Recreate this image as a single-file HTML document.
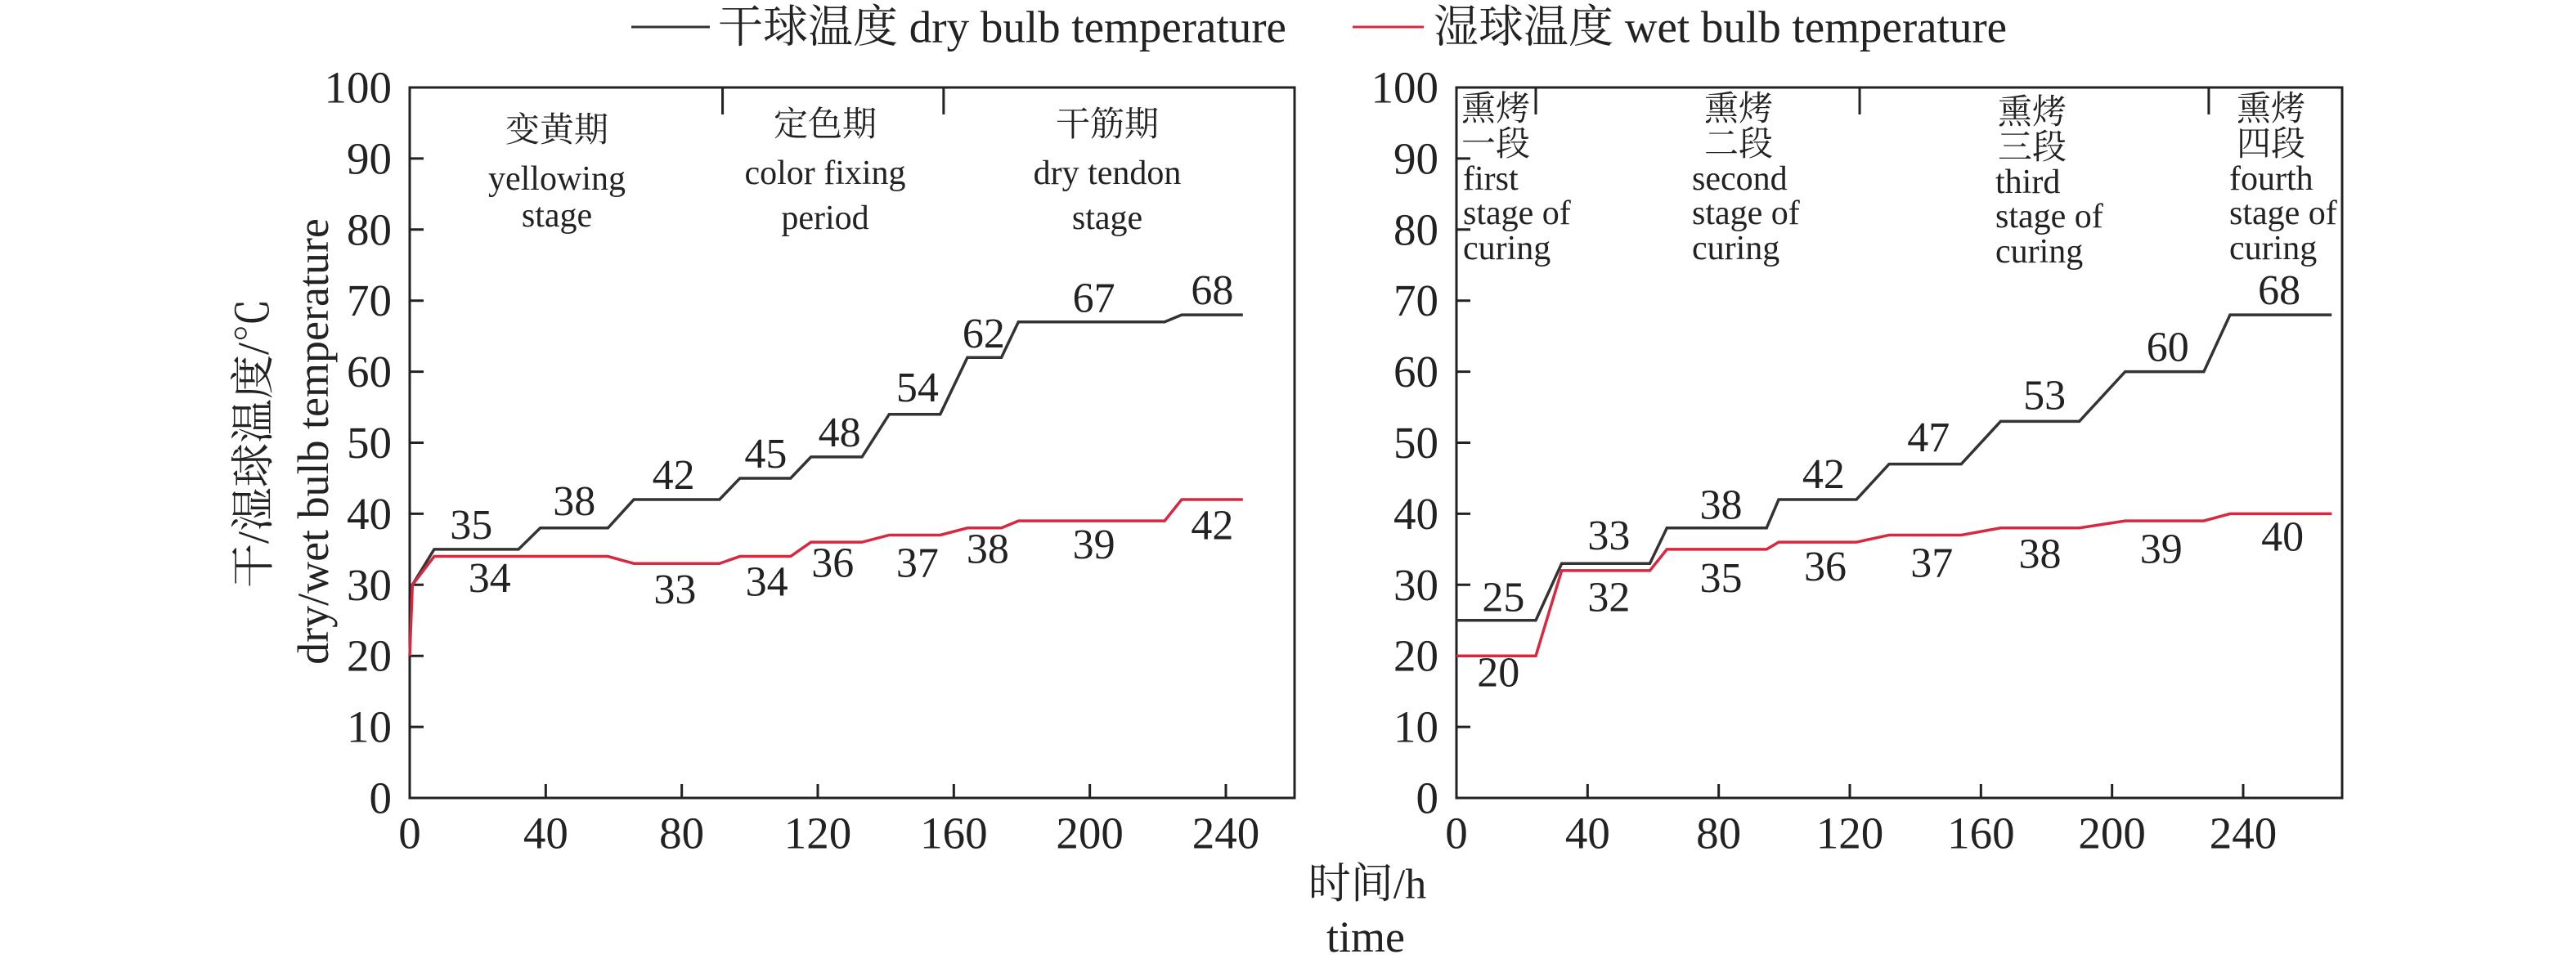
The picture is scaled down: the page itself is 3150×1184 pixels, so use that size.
<!DOCTYPE html>
<html><head><meta charset="utf-8"><style>
html,body{margin:0;padding:0;background:#fff;}
svg{display:block;}
text{font-family:"Liberation Serif","Noto Serif CJK SC",serif;fill:#222;}
</style></head><body>
<svg id="chart" width="3150" height="1184" viewBox="0 0 3150 1184" xmlns="http://www.w3.org/2000/svg">
<g>
<line x1="772" y1="33" x2="868" y2="33" stroke="#333" stroke-width="3"/>
<text x="878" y="33" font-size="55" dominant-baseline="central">干球温度 dry bulb temperature</text>
<line x1="1654" y1="33" x2="1741" y2="33" stroke="#d8283f" stroke-width="3"/>
<text x="1753" y="33" font-size="55" dominant-baseline="central">湿球温度 wet bulb temperature</text>
</g>
<text transform="translate(310,542) rotate(-90)" font-size="54" text-anchor="middle" dominant-baseline="central">干/湿球温度/℃</text>
<text transform="translate(383,540) rotate(-90)" font-size="54" text-anchor="middle" dominant-baseline="central">dry/wet bulb temperature</text>
<text x="1672" y="1082" font-size="52" text-anchor="middle" dominant-baseline="central">时间/h</text>
<text x="1670" y="1146" font-size="54" text-anchor="middle" dominant-baseline="central">time</text>
</svg>
<script>
// ---- Left chart data ----
const leftX = [0,0.8,7.2,32,38.4,58.3,65.9,91.1,97.1,112,118,133,141,156,164,174,179,222,227,245];
const leftDry = [null,30,35,35,38,38,42,42,45,45,48,48,54,54,62,62,67,67,68,68];
const leftWet = [20,30,34,34,34,34,33,33,34,34,36,36,37,37,38,38,39,39,42,42];
const leftDryLabels = ["35","38","42","45","48","54","62","67","68"];
const leftDryLabelX = [18.1,48.4,77.6,104.7,126.4,149.3,168.8,201.2,236];
const leftDryLabelY = [38.4,41.7,45.4,48.4,51.4,57.7,65.3,70.3,71.4];
const leftWetLabels = ["34","33","34","36","37","38","39","42"];
const leftWetLabelX = [23.5,78,105,124.4,149.3,170,201.2,236];
const leftWetLabelY = [30.9,29.3,30.4,33,33,35,35.6,38.3];
const leftDividers = [92,157];
// ---- Right chart data ----
const rightX = [0,24.2,32.1,59,64.2,94.6,98.3,122,132,154,166,190,204,228,236,267];
const rightDry = [25,25,33,33,38,38,42,42,47,47,53,53,60,60,68,68];
const rightWet = [20,20,32,32,35,35,36,36,37,37,38,38,39,39,40,40];
const rightDryLabels = ["25","33","38","42","47","53","60","68"];
const rightDryLabelX = [14.3,46.5,80.7,112,144,179.4,217,251];
const rightDryLabelY = [28.2,36.9,41.2,45.5,50.7,56.6,63.4,71.4];
const rightWetLabels = ["20","32","35","36","37","38","39","40"];
const rightWetLabelX = [12.8,46.5,80.7,112.5,145,178,215,252];
const rightWetLabelY = [17.6,28.2,30.9,32.5,33,34.3,35,36.7];
const rightDividers = [24.2,123,229.5];
const xTicks = [0,40,80,120,160,200,240];
const yTicks = [0,10,20,30,40,50,60,70,80,90,100];

const NS = "http://www.w3.org/2000/svg";
const svg = document.getElementById('chart');
function mk(tag, attrs, parent){const e=document.createElementNS(NS,tag);for(const k in attrs)e.setAttribute(k,attrs[k]);(parent||svg).appendChild(e);return e;}

function drawChart(name, x0px, x240px, xRightPx, xData, dry, wet, dL, dLX, dLY, wL, wLX, wLY, dividers){
  const top=107, bottom=976;
  const sx = v => x0px + (x240px-x0px)*v/240;
  const sy = v => bottom - (bottom-top)*v/100;
  const g = mk('g',{});
  
  
  const frame = mk('rect',{x:x0px,y:top,width:xRightPx-x0px,height:bottom-top,fill:'none',stroke:'#222','stroke-width':3},g);
  
  
  yTicks.forEach(t=>{
    const l=mk('line',{x1:x0px,x2:x0px+17,y1:sy(t),y2:sy(t),stroke:'#222','stroke-width':3},g);
    
    
    const tx=mk('text',{x:x0px-22,y:sy(t),'font-size':55,'text-anchor':'end','dominant-baseline':'central'},g);
    
    
    tx.textContent=t;
  });
  xTicks.forEach(t=>{
    const l=mk('line',{x1:sx(t),x2:sx(t),y1:bottom,y2:bottom-17,stroke:'#222','stroke-width':3},g);
    
    
    const tx=mk('text',{x:sx(t),y:1019,'font-size':55,'text-anchor':'middle','dominant-baseline':'central'},g);
    
    
    tx.textContent=t;
  });
  dividers.forEach(d=>{
    const l=mk('line',{x1:sx(d),x2:sx(d),y1:top,y2:top+33,stroke:'#222','stroke-width':3},g);
    
    
  });
  function series(vals, color, nm){
    const pts=[];
    vals.forEach((v,i)=>{ if(v!==null) pts.push(sx(xData[i])+','+sy(v)); });
    const p=mk('polyline',{points:pts.join(' '),fill:'none',stroke:color,'stroke-width':3.5,'stroke-linejoin':'miter'},g);
    
    
  }
  series(dry,'#333','dry-bulb-line');
  series(wet,'#d8283f','wet-bulb-line');
  function labels(arr, xs, ys, nm){
    arr.forEach((s,i)=>{
      const t=mk('text',{x:sx(xs[i]),y:sy(ys[i]),'font-size':52,'text-anchor':'middle','dominant-baseline':'central'},g);
      
      
      t.textContent=s;
    });
  }
  labels(dL,dLX,dLY,'dry-value-label');
  labels(wL,wLX,wLY,'wet-value-label');
}
drawChart('left-chart',501,1499,1583,leftX,leftDry,leftWet,leftDryLabels,leftDryLabelX,leftDryLabelY,leftWetLabels,leftWetLabelX,leftWetLabelY,leftDividers);
drawChart('right-chart',1781,2743,2864,rightX,rightDry,rightWet,rightDryLabels,rightDryLabelX,rightDryLabelY,rightWetLabels,rightWetLabelX,rightWetLabelY,rightDividers);

function stageText(lines, x, ys, anchor, size){
  lines.forEach((s,i)=>{
    const t=mk('text',{x:x[i],y:ys[i],'font-size':size,'text-anchor':anchor[i],'dominant-baseline':'central'});
    
    
    t.textContent=s;
  });
}
stageText(['变黄期','yellowing','stage'],[681,681,681],[160,219,264],['middle','middle','middle'],42);
stageText(['定色期','color fixing','period'],[1009,1009,1009],[153,212,267],['middle','middle','middle'],42);
stageText(['干筋期','dry tendon','stage'],[1354,1354,1354],[153,212,267],['middle','middle','middle'],42);
stageText(['熏烤','一段','first','stage of','curing'],[1829,1829,1789,1789,1789],[134,177,219,261,304],['middle','middle','start','start','start'],42);
stageText(['熏烤','二段','second','stage of','curing'],[2126,2126,2069,2069,2069],[134,177,219,261,304],['middle','middle','start','start','start'],42);
stageText(['熏烤','三段','third','stage of','curing'],[2485,2485,2440,2440,2440],[138,181,223,265,308],['middle','middle','start','start','start'],42);
stageText(['熏烤','四段','fourth','stage of','curing'],[2777,2777,2726,2726,2726],[134,177,219,261,304],['middle','middle','start','start','start'],42);
</script>
</body></html>
